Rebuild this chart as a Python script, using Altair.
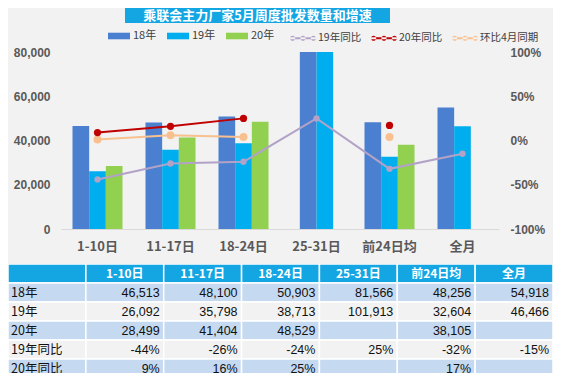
import altair as alt
import pandas as pd

TITLE = "乘联会主力厂家5月周度批发数量和增速"
cats = ["1-10日", "11-17日", "18-24日", "25-31日", "前24日均", "全月"]
series = ["18年", "19年", "20年"]
v18 = [46513, 48100, 50903, 81566, 48256, 54918]
v19 = [26092, 35798, 38713, 101913, 32604, 46466]
v20 = [28499, 41404, 48529, None, 38105, None]
metrics = ["19年同比", "20年同比", "环比4月同期"]
yoy19 = [-0.44, -0.26, -0.24, 0.25, -0.32, -0.15]
yoy20 = [0.09, 0.16, 0.25, None, 0.17, None]
mom4 = [0.01, 0.06, 0.04, None, 0.04, None]
table_rows = ["18年", "19年", "20年", "19年同比", "20年同比"]

# ---- styles ----
FONT = "Liberation Sans, Noto Sans CJK SC"
CJK = "Noto Sans CJK SC, Liberation Sans"
BAR_COLORS = ["#4a80cf", "#00aeef", "#92d050"]
LINE_COLORS = ["#b3a2c7", "#c00000", "#f9c08f"]
HDR_BLUE = "#14a6e3"
AX_COL = "#595959"
CENTERED = {"25-31日"}  # groups drawn centred, without an empty 20年 slot
RECT_SYM = "M-1,-0.3H1V0.3H-1Z"
LINE_SYM = ("M-1,-0.08H1V0.08H-1Z "
            "M-1,0A0.2,0.2 0 1,0 -0.6,0A0.2,0.2 0 1,0 -1,0Z "
            "M-0.2,0A0.2,0.2 0 1,0 0.2,0A0.2,0.2 0 1,0 -0.2,0Z "
            "M0.6,0A0.2,0.2 0 1,0 1,0A0.2,0.2 0 1,0 0.6,0Z")

# ---- bar data ----
vals = {"18年": v18, "19年": v19, "20年": v20}
bar_rec = []
for i, c in enumerate(cats):
    present = [s for s in series if vals[s][i] is not None]
    n = len(present)
    for k, s in enumerate(present):
        if c in CENTERED:
            slot = 2 * k + (3 - n) + 1
        else:
            slot = 2 * series.index(s) + 1
        bar_rec.append({"cat": c, "series": s, "value": vals[s][i], "slot": str(slot)})
bar_df = pd.DataFrame(bar_rec)

# ---- line data ----
mvals = {"19年同比": yoy19, "20年同比": yoy20, "环比4月同期": mom4}
line_rec = []
for m in ["19年同比", "环比4月同期", "20年同比"]:
    seg = 0
    prev = True
    for i, c in enumerate(cats):
        v = mvals[m][i]
        if v is None:
            prev = False
            continue
        if not prev:
            seg += 1
            prev = True
        line_rec.append({"cat": c, "metric": m, "pct": v, "seg": f"{m}-{seg}", "i": i})
line_df = pd.DataFrame(line_rec)

AXW = 53          # room for the left axis inside the view
PW, PH = 438, 177  # plot region
TOP = 44          # room above the plot for the title box and legends
x_scale = alt.Scale(range=[AXW, AXW + PW], paddingInner=0.315, paddingOuter=0.1575)
x_axis = alt.Axis(labelAngle=0, labelFontSize=13, labelFontWeight="bold",
                  labelColor=AX_COL, labelPadding=11, ticks=False,
                  domainColor="#d9d9d9", domainWidth=1.2, grid=False,
                  labelFont=CJK)
x_enc = alt.X("cat:N", sort=cats, title=None, scale=x_scale, axis=x_axis)

bars = alt.Chart(bar_df).mark_bar(width=16.67).encode(
    x=x_enc,
    xOffset=alt.XOffset("slot:N", sort=["1", "2", "3", "4", "5"],
                        scale=alt.Scale(domain=["1", "2", "3", "4", "5"],
                                        paddingInner=0, paddingOuter=0.5)),
    y=alt.Y("value:Q", title=None,
            scale=alt.Scale(domain=[0, 80000], clamp=True, nice=False),
            axis=alt.Axis(values=[0, 20000, 40000, 60000, 80000], format=",.0f",
                          grid=False, domain=False, ticks=False, labelPadding=11,
                          offset=-AXW,
                          labelFontSize=12, labelFontWeight="bold", labelColor=AX_COL)),
    color=alt.Color("series:N", scale=alt.Scale(domain=series, range=BAR_COLORS),
                    legend=alt.Legend(title=None, orient="none", legendX=100, legendY=-27,
                                      direction="horizontal", symbolType=RECT_SYM,
                                      symbolSize=484, symbolStrokeWidth=0,
                                      labelFontSize=11, labelColor="#404040",
                                      labelFont=CJK, columnPadding=10, labelOffset=3)),
)

y_pct = alt.Y("pct:Q", title=None, scale=alt.Scale(domain=[-1, 1], nice=False),
              axis=alt.Axis(orient="right", values=[-1, -0.5, 0, 0.5, 1],
                            labelExpr="(datum.value < 0 ? '-' : '') + format(abs(datum.value) * 100, 'd') + '%'",
                            grid=False, domain=False, ticks=False, labelPadding=11,
                            labelFontSize=12, labelFontWeight="bold", labelColor=AX_COL))
pcolor_scale = alt.Scale(domain=metrics, range=LINE_COLORS)
line_legend = alt.Legend(title=None, orient="none", legendX=282, legendY=-27,
                         direction="horizontal", symbolType=LINE_SYM,
                         symbolSize=676, symbolStrokeWidth=0,
                         labelFontSize=10.5, labelColor="#404040",
                         labelFont=CJK, columnPadding=9, labelOffset=2)

lines = alt.Chart(line_df).mark_line(strokeWidth=2).encode(
    x=x_enc, y=y_pct,
    color=alt.Color("metric:N", scale=pcolor_scale, legend=line_legend),
    detail="seg:N",
    order=alt.Order("i:Q"),
)
points = alt.Chart(line_df).mark_circle(opacity=1).encode(
    x=x_enc, y=y_pct,
    color=alt.Color("metric:N", scale=pcolor_scale, legend=line_legend),
    size=alt.Size("metric:N", scale=alt.Scale(domain=metrics, range=[40, 64, 40]), legend=None),
)
line_layer = alt.layer(lines, points)

title_df = pd.DataFrame({"t": [TITLE]})
title_box = alt.Chart(title_df).mark_rect(color=HDR_BLUE).encode(
    x=alt.value(117), x2=alt.value(382), y=alt.value(-TOP), y2=alt.value(-TOP + 15))
title_txt = alt.Chart(title_df).mark_text(color="white", fontSize=13, fontWeight="bold",
                                          font=CJK).encode(
    x=alt.value(249.5), y=alt.value(-TOP + 7.5), text="t:N")

top = alt.layer(title_box, title_txt, bars, line_layer).resolve_scale(
    y="independent", color="independent").properties(width=AXW + PW, height=PH)

# ---- table ----
row_keys = ["r0"] + [f"r{k+1}" for k in range(len(table_rows))]
col_keys = [f"c{k}" for k in range(len(cats) + 1)]
tvals = {"18年": v18, "19年": v19, "20年": v20, "19年同比": yoy19, "20年同比": yoy20}
pct_rows = {"19年同比", "20年同比"}


def fmt(row, v):
    if v is None:
        return ""
    if row in pct_rows:
        return f"{int(round(v * 100))}%"
    return f"{v:,}"


trec = []
for ci, ck in enumerate(col_keys):
    trec.append({"row": "r0", "col": ck, "kind": "hdr", "role": "hdr",
                 "text": "" if ci == 0 else cats[ci - 1]})
for ri, r in enumerate(table_rows):
    kind = "blue" if ri % 2 == 0 else "light"
    rk = row_keys[ri + 1]
    trec.append({"row": rk, "col": "c0", "kind": kind, "role": "lab", "text": r})
    for ci, c in enumerate(cats):
        trec.append({"row": rk, "col": col_keys[ci + 1], "kind": kind, "role": "val",
                     "text": fmt(r, tvals[r][ci])})
table_df = pd.DataFrame(trec)

TW, TH = 545, 109   # visible table area; the last row is cut like the reference
ROW_H = 19
tscale_x = alt.Scale(paddingInner=0, paddingOuter=0)
ty = alt.Y("row:N", sort=row_keys, axis=None,
           scale=alt.Scale(range=[0, ROW_H * len(row_keys)], paddingInner=0, paddingOuter=0))
tbase = alt.Chart(table_df)
cells = tbase.mark_rect(stroke="white", strokeWidth=1.5, clip=True).encode(
    x=alt.X("col:N", sort=col_keys, axis=None, scale=tscale_x), y=ty,
    fill=alt.Fill("kind:N", scale=alt.Scale(domain=["hdr", "blue", "light"],
                                            range=[HDR_BLUE, "#c5d9f1", "#f2f2f2"]),
                  legend=None))
hdr_txt = tbase.transform_filter("datum.role == 'hdr'").mark_text(
    color="white", fontWeight="bold", fontSize=12, font=CJK, clip=True).encode(
    x=alt.X("col:N", sort=col_keys, axis=None, scale=tscale_x), y=ty, text="text:N")
lab_txt = tbase.transform_filter("datum.role == 'lab'").mark_text(
    align="left", dx=3, fontSize=12.5, color="#111111", font=CJK, clip=True).encode(
    x=alt.X("col:N", sort=col_keys, axis=None, scale=tscale_x, bandPosition=0),
    y=ty, text="text:N")
val_txt = tbase.transform_filter("datum.role == 'val'").mark_text(
    align="right", dx=-4, fontSize=12.5, color="#111111", font=FONT, clip=True).encode(
    x=alt.X("col:N", sort=col_keys, axis=None, scale=tscale_x, bandPosition=1),
    y=ty, text="text:N")
table = alt.layer(cells, hdr_txt, lab_txt, val_txt).properties(width=TW, height=TH)

chart = alt.vconcat(top, table, spacing=11).properties(
    background="#f2f2f2", padding=0
).configure(font=FONT).configure_view(stroke=None)

chart.save("out.html", embed_options={"renderer": "svg", "actions": False})
